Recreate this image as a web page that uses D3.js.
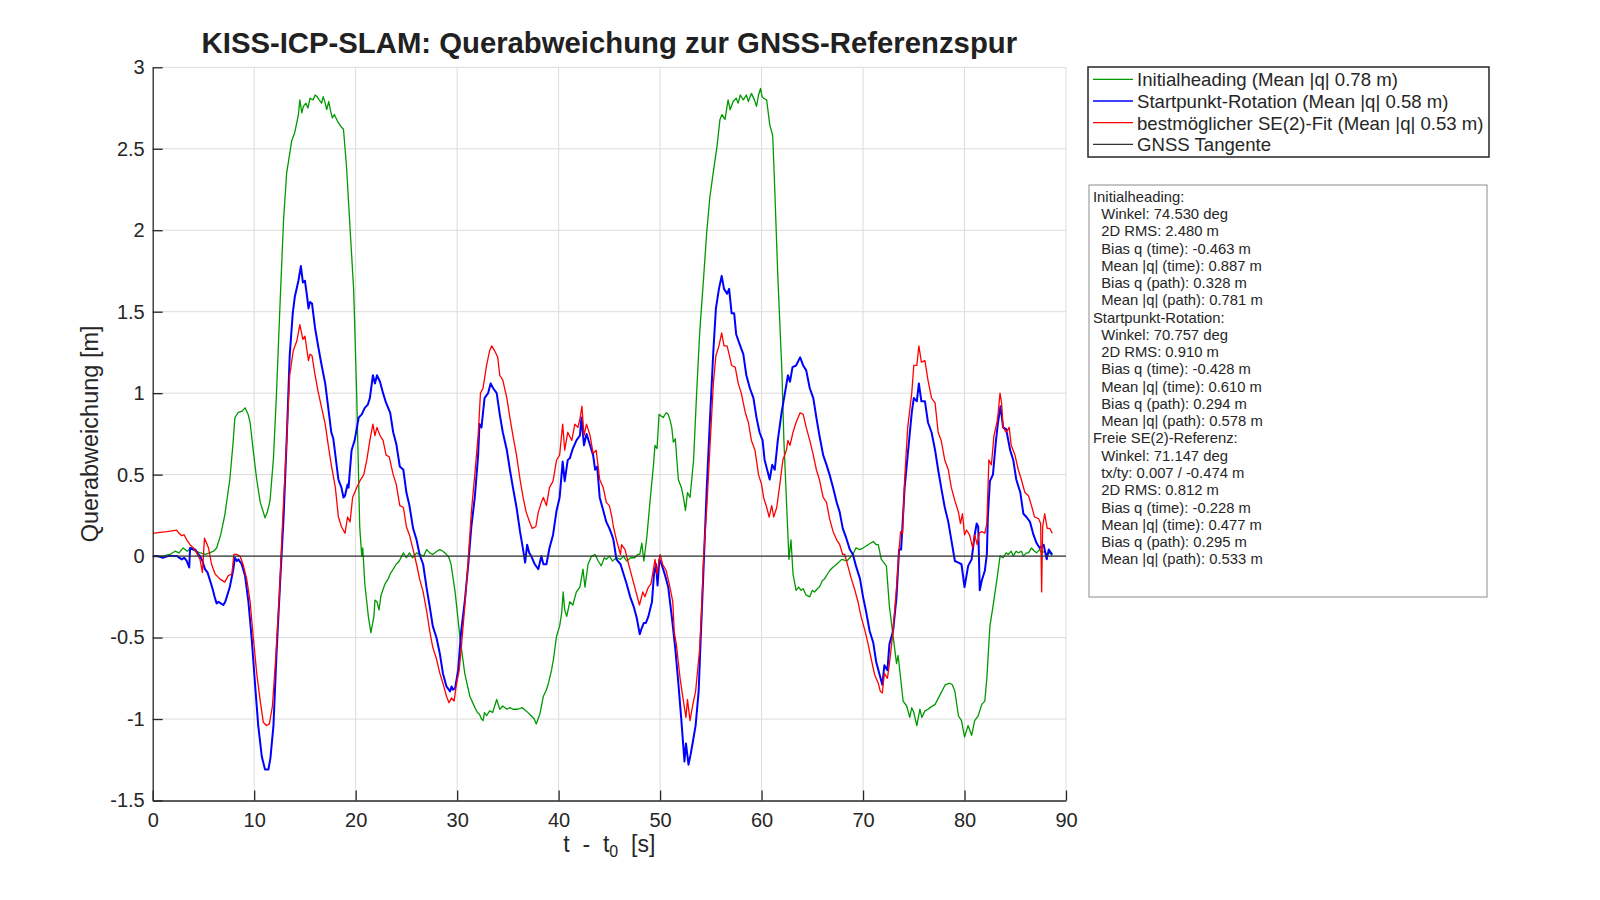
<!DOCTYPE html>
<html>
<head>
<meta charset="utf-8">
<script src="https://cdn.jsdelivr.net/npm/d3@7"></script>
<style>
  html, body { margin: 0; padding: 0; background: #ffffff; }
  svg { display: block; font-family: "Liberation Sans", Arial, Helvetica, sans-serif; }
</style>
</head>
<body>
<script>
// ---------------- DATA ----------------
const xTicks = [0, 10, 20, 30, 40, 50, 60, 70, 80, 90];
const yTicks = [-1.5, -1, -0.5, 0, 0.5, 1, 1.5, 2, 2.5, 3];
const yTickLabels = ["-1.5", "-1", "-0.5", "0", "0.5", "1", "1.5", "2", "2.5", "3"];

const seriesNames = [
  "Initialheading (Mean |q| 0.78 m)",
  "Startpunkt-Rotation (Mean |q| 0.58 m)",
  "bestmöglicher SE(2)-Fit (Mean |q| 0.53 m)",
  "GNSS Tangente"
];

// Initialheading (green)
const tInit = [0,1.0,1.7,2.2,2.6,3.0,3.4,3.8,4.2,4.7,5.2,5.6,6.0,6.3,6.7,7.1,7.6,7.9,8.1,8.4,8.8,9.1,9.4,9.6,9.9,10.25,10.6,11.07,11.3,11.56,11.9,12.2,12.55,12.9,13.2,13.5,13.7,14.0,14.2,14.36,14.5,14.7,14.85,15.1,15.3,15.5,15.8,16.0,16.2,16.4,16.65,16.8,17.0,17.15,17.35,17.5,17.7,17.9,18.2,18.5,18.8,19.1,19.45,19.8,20.1,20.4,20.6,20.7,20.9,21.25,21.5,21.8,21.9,22.1,22.3,22.5,22.9,23.2,23.4,23.7,24.0,24.3,24.7,25.0,25.3,25.6,26.0,26.3,26.7,27.0,27.3,27.6,28.0,28.3,28.6,28.95,29.2,29.4,29.8,30.3,30.75,31.25,31.75,32.0,32.2,32.4,32.55,32.7,32.9,33.2,33.5,33.9,34.2,34.5,34.9,35.2,35.5,36.0,36.4,36.8,37.3,37.6,37.8,38.15,38.5,38.8,39.0,39.3,39.5,39.8,40.1,40.3,40.45,40.6,40.8,41.1,41.4,41.75,42.1,42.4,42.6,42.9,43.25,43.6,43.9,44.2,44.5,44.7,45.0,45.3,45.7,46.1,46.4,46.7,47.1,47.5,47.8,48.0,48.2,48.4,48.7,49.0,49.35,49.5,49.7,49.9,50.1,50.3,50.6,50.8,51.0,51.15,51.3,51.5,51.8,52.1,52.3,52.5,52.7,52.95,53.3,53.6,53.9,54.3,54.6,54.9,55.25,55.6,55.9,56.1,56.4,56.7,56.9,57.2,57.5,57.7,57.9,58.2,58.5,58.7,59.0,59.3,59.5,59.7,59.9,60.05,60.2,60.5,60.8,61.1,61.3,61.6,62.0,62.2,62.5,62.7,62.9,63.1,63.4,63.65,63.9,64.1,64.4,64.75,65.0,65.2,65.5,65.7,66.0,66.2,66.5,66.7,67.0,67.4,67.9,68.4,69.0,69.3,69.7,70.0,70.5,71.0,71.3,71.5,71.8,72.3,72.6,72.96,73.3,73.45,73.6,73.95,74.3,74.6,74.8,75.0,75.3,75.6,75.8,76.1,76.4,76.6,77.1,77.6,78.1,78.55,78.8,79.05,79.4,79.7,80.0,80.35,80.7,81.0,81.35,81.7,82.0,82.2,82.5,82.8,83.2,83.5,83.8,84.1,84.3,84.6,84.8,85.1,85.3,85.6,85.8,86.1,86.3,86.6,86.9,87.1,87.4,87.6,87.9,88.1,88.4,88.65];
const qInit = [0,0,0.01,0.03,0.02,0.05,0.03,0.05,0.03,0.02,0.01,0.02,0.03,0.05,0.13,0.25,0.47,0.68,0.85,0.88,0.89,0.91,0.87,0.82,0.65,0.47,0.33,0.235,0.27,0.34,0.6,1.0,1.55,2.07,2.35,2.47,2.55,2.6,2.66,2.71,2.8,2.72,2.76,2.78,2.75,2.81,2.80,2.83,2.82,2.80,2.78,2.82,2.78,2.74,2.79,2.74,2.69,2.71,2.67,2.64,2.62,2.39,2.01,1.64,1.0,0.18,0.0,0.05,-0.17,-0.37,-0.47,-0.37,-0.27,-0.28,-0.33,-0.24,-0.17,-0.14,-0.11,-0.08,-0.05,-0.03,0.02,-0.01,0.02,-0.01,0.02,0.01,0.0,0.04,0.02,0.01,0.03,0.04,0.03,0.01,-0.01,-0.05,-0.22,-0.51,-0.72,-0.86,-0.93,-0.96,-0.97,-1.0,-1.01,-0.96,-0.98,-0.95,-0.96,-0.88,-0.94,-0.92,-0.94,-0.93,-0.94,-0.94,-0.93,-0.95,-0.98,-1.0,-1.03,-0.97,-0.86,-0.82,-0.78,-0.7,-0.63,-0.49,-0.43,-0.35,-0.22,-0.33,-0.37,-0.28,-0.3,-0.22,-0.19,-0.08,-0.19,-0.05,0.0,0.01,-0.03,-0.06,-0.01,-0.02,0.0,-0.03,-0.01,-0.02,0.0,-0.03,-0.01,-0.01,0.01,0.01,0.08,-0.03,0.12,0.33,0.56,0.68,0.66,0.87,0.86,0.85,0.88,0.87,0.83,0.79,0.7,0.72,0.47,0.42,0.36,0.28,0.39,0.36,0.59,1.0,1.37,1.72,1.99,2.2,2.36,2.51,2.68,2.71,2.68,2.8,2.74,2.79,2.81,2.78,2.83,2.80,2.83,2.79,2.84,2.80,2.76,2.83,2.87,2.82,2.81,2.8,2.65,2.58,2.25,1.72,1.14,0.71,0.27,-0.02,0.1,-0.11,-0.21,-0.19,-0.21,-0.2,-0.24,-0.25,-0.21,-0.22,-0.2,-0.19,-0.15,-0.14,-0.11,-0.09,-0.07,-0.05,-0.02,-0.03,0.01,0.05,0.04,0.05,0.07,0.09,0.07,0.07,-0.02,-0.06,-0.31,-0.49,-0.66,-0.61,-0.69,-0.89,-0.92,-0.99,-0.93,-0.96,-1.04,-0.94,-0.99,-0.95,-0.94,-0.93,-0.91,-0.85,-0.79,-0.78,-0.79,-0.83,-0.98,-1.01,-1.11,-1.04,-1.10,-1.01,-0.98,-0.91,-0.89,-0.75,-0.43,-0.31,-0.14,0.0,-0.01,0.02,0.01,0.03,0.0,0.03,0.02,0.03,0.0,0.02,0.02,0.05,0.03,0.02,0.04,0.02,0.03,0.01,0.02,0.0];

// Startpunkt-Rotation (blue)
const tStart = [0,0.5,1.0,1.5,1.9,2.4,2.86,3.1,3.35,3.6,3.68,4.0,4.2,4.5,4.67,4.9,5.15,5.4,5.65,5.9,6.1,6.3,6.5,6.7,6.96,7.15,7.3,7.6,7.95,8.1,8.3,8.45,8.77,9.1,9.43,9.76,10.1,10.4,10.75,11.07,11.4,11.6,11.9,12.2,12.55,12.9,13.2,13.5,13.8,14.0,14.36,14.6,14.8,15.0,15.2,15.35,15.5,15.7,16.0,16.3,16.65,17.0,17.3,17.6,17.8,18.0,18.3,18.6,18.8,18.95,19.2,19.3,19.4,19.6,19.9,20.3,20.6,20.9,21.2,21.4,21.7,21.9,22.1,22.4,22.7,23.0,23.4,23.7,24.0,24.35,24.7,25.0,25.3,25.66,26.0,26.3,26.65,26.98,27.3,27.6,27.96,28.3,28.6,28.95,29.3,29.45,29.6,29.8,30.1,30.4,30.75,31.1,31.4,31.74,32.07,32.2,32.4,32.7,33.05,33.3,33.55,33.9,34.2,34.5,34.9,35.2,35.5,35.85,36.2,36.5,36.7,36.9,37.1,37.3,37.65,38.0,38.3,38.5,38.8,39.1,39.45,39.8,40.1,40.4,40.6,40.9,41.1,41.4,41.76,42.1,42.25,42.5,42.75,43.1,43.4,43.6,43.8,44.05,44.4,44.7,45.0,45.25,45.4,45.7,46.1,46.4,46.7,47.05,47.4,47.7,48.0,48.2,48.4,48.6,48.85,49.2,49.4,49.6,49.75,49.93,50.15,50.5,50.8,51.15,51.5,51.8,52.1,52.4,52.55,52.8,53.0,53.2,53.5,53.8,54.0,54.3,54.6,54.9,55.25,55.5,55.8,56.07,56.3,56.6,56.8,57.05,57.3,57.5,57.9,58.2,58.5,58.85,59.2,59.5,59.8,60.1,60.3,60.55,60.8,61.05,61.3,61.6,61.97,62.3,62.6,62.8,63.05,63.4,63.8,64.1,64.4,64.75,65.1,65.4,65.7,66.07,66.4,66.7,67.05,67.4,67.7,68.0,68.35,68.7,69.0,69.3,69.7,70.0,70.3,70.65,71.0,71.3,71.6,71.9,72.1,72.4,72.6,72.96,73.3,73.55,73.75,74.1,74.4,74.8,75.0,75.3,75.5,75.75,76.1,76.4,76.75,77.1,77.4,77.7,78.05,78.4,78.7,79.05,79.4,79.7,80.0,80.36,80.7,81.0,81.2,81.35,81.5,81.7,82.0,82.2,82.3,82.5,82.8,83.1,83.3,83.55,83.8,84.1,84.5,84.8,85.1,85.5,85.8,86.1,86.45,86.8,87.1,87.4,87.8,88.1,88.3,88.65];
const qStart = [0,0,-0.01,0.0,0.0,0.0,-0.02,-0.01,-0.03,-0.07,0.05,0.04,0.04,0.01,0.0,-0.03,-0.08,-0.1,-0.15,-0.2,-0.25,-0.29,-0.28,-0.29,-0.30,-0.28,-0.25,-0.19,-0.08,-0.01,-0.03,-0.02,-0.05,-0.12,-0.28,-0.51,-0.8,-1.04,-1.23,-1.31,-1.31,-1.24,-1.04,-0.6,-0.17,0.24,0.71,1.23,1.49,1.59,1.69,1.78,1.68,1.69,1.6,1.52,1.56,1.55,1.40,1.29,1.17,1.06,0.91,0.76,0.72,0.62,0.47,0.42,0.36,0.37,0.44,0.42,0.5,0.65,0.71,0.85,0.87,0.91,0.93,0.97,1.11,1.06,1.11,1.07,1.0,0.94,0.88,0.76,0.69,0.55,0.53,0.39,0.31,0.17,0.1,0.01,-0.05,-0.19,-0.31,-0.43,-0.5,-0.6,-0.72,-0.8,-0.83,-0.80,-0.82,-0.81,-0.7,-0.46,-0.28,-0.05,0.18,0.36,0.62,0.81,0.79,0.97,1.0,1.06,1.03,1.0,0.87,0.76,0.65,0.53,0.42,0.3,0.15,0.04,-0.04,0.07,0.02,0.0,-0.05,-0.08,0.0,-0.05,-0.05,0.05,0.13,0.28,0.36,0.58,0.46,0.59,0.6,0.66,0.71,0.74,0.85,0.68,0.75,0.68,0.62,0.53,0.55,0.36,0.28,0.21,0.17,0.13,0.10,-0.02,-0.05,-0.11,-0.17,-0.25,-0.31,-0.38,-0.48,-0.44,-0.41,-0.41,-0.37,-0.28,-0.11,-0.05,-0.18,-0.02,-0.05,-0.12,-0.19,-0.37,-0.57,-0.78,-1.01,-1.26,-1.15,-1.28,-1.22,-1.15,-1.04,-0.83,-0.51,-0.05,0.42,0.82,1.26,1.52,1.64,1.72,1.64,1.61,1.64,1.49,1.49,1.36,1.29,1.24,1.11,1.03,0.97,0.85,0.76,0.71,0.59,0.53,0.47,0.56,0.53,0.71,0.88,1.0,1.11,1.07,1.16,1.17,1.22,1.17,1.14,1.03,0.97,0.85,0.74,0.62,0.56,0.5,0.42,0.33,0.27,0.17,0.11,0.04,0.01,-0.06,-0.14,-0.25,-0.34,-0.46,-0.53,-0.65,-0.72,-0.79,-0.67,-0.70,-0.54,-0.46,-0.25,0.04,0.04,0.42,0.62,0.88,0.97,0.95,1.06,0.95,0.95,0.82,0.76,0.65,0.53,0.42,0.3,0.21,0.1,-0.03,-0.04,-0.05,-0.19,-0.06,-0.02,0.13,0.2,0.18,-0.21,-0.15,-0.09,0.01,0.24,0.46,0.5,0.71,0.82,0.92,0.79,0.78,0.65,0.59,0.47,0.39,0.26,0.24,0.21,0.13,0.08,0.05,0.07,-0.02,0.04,0.01];

// bestmöglicher SE(2)-Fit (red)
const tFit = [0,0.7,1.4,1.9,2.37,2.6,2.86,3.1,3.35,3.68,4.17,4.66,4.9,5.1,5.3,5.5,5.8,6.15,6.6,7.1,7.45,7.8,8.0,8.3,8.6,8.9,9.26,9.6,9.9,10.25,10.6,10.9,11.2,11.5,11.8,12.15,12.5,12.8,13.2,13.5,13.85,14.2,14.5,14.8,15.0,15.35,15.5,15.7,16.0,16.3,16.65,17.0,17.3,17.6,18.0,18.3,18.6,18.95,19.2,19.45,19.7,20.1,20.4,20.8,21.1,21.4,21.7,21.9,22.1,22.4,22.7,23.0,23.3,23.7,24.0,24.35,24.7,25.0,25.3,25.66,26.0,26.3,26.65,27.0,27.3,27.6,27.96,28.3,28.6,28.95,29.2,29.45,29.7,29.9,30.2,30.4,30.75,31.1,31.4,31.74,32.07,32.3,32.55,32.9,33.2,33.4,33.7,34.0,34.2,34.5,34.9,35.2,35.5,35.85,36.2,36.5,36.8,37.2,37.4,37.75,38.0,38.3,38.5,38.8,39.1,39.45,39.8,40.1,40.4,40.6,40.9,41.3,41.6,41.9,42.1,42.3,42.5,42.75,43.1,43.4,43.7,44.05,44.4,44.7,45.0,45.25,45.4,45.7,46.1,46.2,46.55,46.9,47.2,47.5,47.97,48.3,48.5,48.85,49.1,49.35,49.5,49.7,50.0,50.25,50.6,50.9,51.25,51.4,51.6,51.97,52.3,52.55,52.7,52.95,53.2,53.5,53.9,54.1,54.3,54.6,54.9,55.25,55.5,55.8,56.07,56.3,56.6,56.8,57.05,57.4,57.7,58.0,58.4,58.7,59.0,59.35,59.7,60.0,60.2,60.5,60.75,61.0,61.2,61.5,61.8,62.1,62.45,62.6,62.8,63.1,63.4,63.8,64.1,64.4,64.75,65.1,65.4,65.7,66.07,66.4,66.7,67.05,67.4,67.7,68.0,68.2,68.5,68.85,69.2,69.5,69.8,70.2,70.5,70.8,71.15,71.5,71.7,71.9,72.1,72.4,72.6,72.96,73.3,73.55,73.7,73.9,74.1,74.4,74.8,75.0,75.3,75.5,75.75,76.1,76.4,76.75,77.1,77.4,77.7,78.05,78.4,78.7,79.05,79.4,79.6,79.8,80.0,80.2,80.5,80.8,81.0,81.25,81.45,81.7,82.0,82.2,82.4,82.65,82.9,83.2,83.3,83.5,83.65,83.8,84.1,84.4,84.6,84.97,85.3,85.6,85.95,86.3,86.6,86.9,87.3,87.5,87.6,87.7,87.9,88.15,88.4,88.65];
const qFit = [0.14,0.145,0.15,0.155,0.16,0.14,0.125,0.13,0.1,0.07,0.04,-0.02,-0.1,0.11,0.08,0.05,-0.05,-0.11,-0.14,-0.16,-0.12,-0.11,0.01,0.01,0.0,-0.05,-0.14,-0.28,-0.49,-0.72,-0.89,-1.02,-1.04,-1.03,-0.92,-0.6,-0.22,0.21,0.71,1.11,1.26,1.32,1.42,1.33,1.35,1.2,1.24,1.23,1.11,1.01,0.91,0.81,0.68,0.56,0.42,0.24,0.18,0.14,0.24,0.21,0.36,0.42,0.46,0.5,0.59,0.71,0.81,0.74,0.79,0.74,0.71,0.62,0.61,0.5,0.44,0.31,0.3,0.18,0.13,0.04,-0.05,-0.14,-0.22,-0.34,-0.46,-0.56,-0.63,-0.72,-0.78,-0.86,-0.9,-0.87,-0.89,-0.8,-0.7,-0.57,-0.31,-0.02,0.27,0.5,0.74,1.0,1.03,1.17,1.26,1.29,1.26,1.22,1.11,1.08,0.97,0.85,0.74,0.62,0.47,0.36,0.27,0.2,0.17,0.18,0.27,0.33,0.36,0.31,0.42,0.46,0.59,0.62,0.81,0.65,0.76,0.71,0.81,0.79,0.84,0.92,0.74,0.81,0.74,0.63,0.65,0.47,0.42,0.33,0.31,0.24,0.18,0.1,0.01,0.07,0.04,-0.05,-0.12,-0.19,-0.3,-0.22,-0.25,-0.19,-0.17,-0.08,-0.02,-0.11,0.01,-0.05,-0.09,-0.17,-0.28,-0.47,-0.54,-0.75,-0.89,-0.99,-0.88,-1.01,-0.92,-0.83,-0.57,-0.31,0.01,0.3,0.65,1.06,1.23,1.29,1.37,1.29,1.29,1.24,1.17,1.16,1.06,1.0,0.88,0.82,0.71,0.65,0.5,0.44,0.36,0.3,0.24,0.31,0.24,0.3,0.44,0.59,0.65,0.71,0.68,0.76,0.82,0.88,0.87,0.79,0.71,0.62,0.53,0.47,0.36,0.33,0.23,0.15,0.1,0.07,0.01,0.01,-0.06,-0.14,-0.21,-0.28,-0.37,-0.46,-0.54,-0.63,-0.73,-0.78,-0.83,-0.84,-0.72,-0.75,-0.66,-0.46,-0.19,0.04,0.15,0.14,0.47,0.79,1.0,1.17,1.17,1.29,1.19,1.2,1.08,0.97,0.94,0.76,0.71,0.59,0.53,0.42,0.34,0.27,0.2,0.26,0.13,0.16,0.13,0.05,0.13,0.07,0.14,0.15,0.14,0.2,0.59,0.56,0.74,0.82,0.87,1.0,0.94,0.79,0.76,0.79,0.68,0.62,0.53,0.47,0.39,0.37,0.31,0.24,0.23,0.2,-0.22,0.18,0.26,0.17,0.17,0.14];

const statsLines = [
  "Initialheading:",
  "  Winkel: 74.530 deg",
  "  2D RMS: 2.480 m",
  "  Bias q (time): -0.463 m",
  "  Mean |q| (time): 0.887 m",
  "  Bias q (path): 0.328 m",
  "  Mean |q| (path): 0.781 m",
  "Startpunkt-Rotation:",
  "  Winkel: 70.757 deg",
  "  2D RMS: 0.910 m",
  "  Bias q (time): -0.428 m",
  "  Mean |q| (time): 0.610 m",
  "  Bias q (path): 0.294 m",
  "  Mean |q| (path): 0.578 m",
  "Freie SE(2)-Referenz:",
  "  Winkel: 71.147 deg",
  "  tx/ty: 0.007 / -0.474 m",
  "  2D RMS: 0.812 m",
  "  Bias q (time): -0.228 m",
  "  Mean |q| (time): 0.477 m",
  "  Bias q (path): 0.295 m",
  "  Mean |q| (path): 0.533 m"
];

// ---------------- CHART ----------------
const W = 1600, H = 900;
const plot = { left: 152.7, right: 1066, top: 67.3, bottom: 800.5 };
const colors = ["#009900", "#0000ff", "#ff0000", "#333333"];
const widths = [1.3, 2.0, 1.3, 1.2];
const textCol = "#262626";

const svg = d3.select("body").append("svg").attr("width", W).attr("height", H);
svg.append("rect").attr("width", W).attr("height", H).attr("fill", "#ffffff");

const x = d3.scaleLinear().domain([0, 90]).range([plot.left, plot.right]);
const y = d3.scaleLinear().domain([-1.5, 3]).range([plot.bottom, plot.top]);

// grid
const grid = svg.append("g").attr("stroke", "#dcdcdc").attr("stroke-width", 1);
grid.selectAll("line.gx").data(xTicks.slice(1)).enter().append("line")
  .attr("x1", d => x(d)).attr("x2", d => x(d)).attr("y1", plot.top).attr("y2", plot.bottom);
grid.selectAll("line.gy").data(yTicks.slice(1)).enter().append("line")
  .attr("x1", plot.left).attr("x2", plot.right).attr("y1", d => y(d)).attr("y2", d => y(d));

// series
const series = [
  { t: tInit, q: qInit },
  { t: tStart, q: qStart },
  { t: tFit, q: qFit }
];
const line = d3.line().x(d => x(d[0])).y(d => y(d[1]));
const clipId = "plotclip";
svg.append("clipPath").attr("id", clipId).append("rect")
  .attr("x", plot.left).attr("y", plot.top)
  .attr("width", plot.right - plot.left).attr("height", plot.bottom - plot.top);
const lines = svg.append("g").attr("clip-path", `url(#${clipId})`);
series.forEach((s, i) => {
  const pts = s.t.map((t, k) => [t, s.q[k]]);
  lines.append("path").datum(pts)
    .attr("fill", "none").attr("stroke", colors[i]).attr("stroke-width", widths[i])
    .attr("stroke-linejoin", "round").attr("d", line);
});
// GNSS tangent (zero line)
lines.append("path").datum([[0, 0], [90, 0]])
  .attr("fill", "none").attr("stroke", colors[3]).attr("stroke-width", widths[3]).attr("d", line);

// axes
const xAxis = d3.axisBottom(x).tickValues(xTicks).tickSizeInner(-10).tickSizeOuter(0).tickPadding(12.6);
const yAxis = d3.axisLeft(y).tickValues(yTicks).tickSizeInner(-10).tickSizeOuter(0).tickPadding(8)
  .tickFormat((d, i) => yTickLabels[i]);

const gx = svg.append("g").attr("transform", `translate(0,${plot.bottom})`).call(xAxis);
const gy = svg.append("g").attr("transform", `translate(${plot.left},0)`).call(yAxis);
[gx, gy].forEach(g => {
  g.select(".domain").attr("stroke", textCol).attr("stroke-width", 1.3);
  g.selectAll(".tick line").attr("stroke", textCol).attr("stroke-width", 1.3);
  g.selectAll(".tick text").attr("fill", textCol).style("font-size", "20px")
    .style("font-family", '"Liberation Sans", Arial, Helvetica, sans-serif');
});

// title
svg.append("text").attr("x", (plot.left + plot.right) / 2).attr("y", 53)
  .attr("text-anchor", "middle").attr("fill", "#212121")
  .style("font-size", "29.3px").style("font-weight", "bold")
  .text("KISS-ICP-SLAM: Querabweichung zur GNSS-Referenzspur");

// y label
svg.append("text")
  .attr("transform", `translate(98,${(plot.top + plot.bottom) / 2}) rotate(-90)`)
  .attr("text-anchor", "middle").attr("fill", textCol).style("font-size", "23.5px")
  .text("Querabweichung [m]");

// x label
const xl = svg.append("text").attr("x", (plot.left + plot.right) / 2).attr("y", 852)
  .attr("text-anchor", "middle").attr("fill", textCol).style("font-size", "23px")
  .attr("xml:space", "preserve").style("white-space", "pre");
xl.append("tspan").text("t  -  t");
xl.append("tspan").attr("dy", 5).style("font-size", "16px").text("0");
xl.append("tspan").attr("dy", -5).text("  [s]");

// legend
const leg = { x: 1088, y: 67, w: 401, h: 90 };
const lg = svg.append("g");
lg.append("rect").attr("x", leg.x).attr("y", leg.y).attr("width", leg.w).attr("height", leg.h)
  .attr("fill", "#ffffff").attr("stroke", textCol).attr("stroke-width", 1.5);
seriesNames.forEach((name, i) => {
  const cy = 79.3 + i * 21.7;
  lg.append("line").attr("x1", 1093).attr("x2", 1133).attr("y1", cy).attr("y2", cy)
    .attr("stroke", colors[i]).attr("stroke-width", i === 3 ? 1.2 : 1.3);
  lg.append("text").attr("x", 1137).attr("y", cy + 7).attr("fill", textCol)
    .style("font-size", "18.6px").text(name);
});

// stats box
const sb = { x: 1089, y: 185, w: 398, h: 412 };
const sg = svg.append("g");
sg.append("rect").attr("x", sb.x).attr("y", sb.y).attr("width", sb.w).attr("height", sb.h)
  .attr("fill", "#ffffff").attr("stroke", "#8c8c8c").attr("stroke-width", 1);
sg.selectAll("text").data(statsLines).enter().append("text")
  .attr("x", 1093).attr("y", (d, i) => 201.7 + i * 17.27)
  .attr("fill", textCol).style("font-size", "14.8px")
  .attr("xml:space", "preserve").style("white-space", "pre")
  .text(d => d);
</script>
</body>
</html>
